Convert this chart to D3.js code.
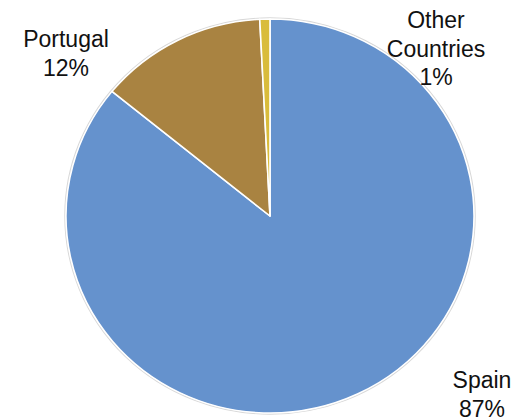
<!DOCTYPE html>
<html>
<head>
<meta charset="utf-8">
<script src="https://cdn.jsdelivr.net/npm/d3@7"></script>
<style>
  body { margin: 0; background: #fff; }
  svg { display: block; }
</style>
</head>
<body>
<div id="d3-container"></div>
<script>
/* CONSTANTS AND GLOBALS */
const width = 521,
  height = 420,
  cx = 270, cy = 216,
  rx = 204, ry = 197;

/* DATA */
const countries = ["Spain", "Portugal", "Other Countries"];
const shares = [85.9, 13.3, 0.8];
const shareLabels = ["87%", "12%", "1%"];
const colors = ["#6592cd", "#a98341", "#d9bc3b"];

// label anchor points (center x, first baseline y) and line breaks
const labelLines = [["Spain"], ["Portugal"], ["Other", "Countries"]];
const labelPos = [[482, 388], [66, 47], [436, 28]];

const data = countries.map((c, i) => ({ name: c, value: shares[i], label: shareLabels[i] }));

const svg = d3.select("#d3-container")
  .append("svg")
  .attr("width", width)
  .attr("height", height);

const pie = d3.pie().sort(null).value(d => d.value);
const arc = d3.arc().innerRadius(0).outerRadius(rx);

// pie is slightly squashed vertically, like the original
const g = svg.append("g")
  .attr("transform", `translate(${cx},${cy}) scale(1,${ry / rx})`);

// faint edge shadow
g.append("circle")
  .attr("r", rx + 1)
  .attr("fill", "none")
  .attr("stroke", "#d8d8d8")
  .attr("stroke-width", 1.5);

g.selectAll("path")
  .data(pie(data))
  .join("path")
  .attr("d", arc)
  .attr("fill", (d, i) => colors[i])
  .attr("stroke", "#fff")
  .attr("stroke-width", 1.6)
  .attr("stroke-linejoin", "round");

// labels
const lineH = 28.5;
data.forEach((d, i) => {
  const lines = labelLines[i].concat([d.label]);
  const t = svg.append("text")
    .attr("text-anchor", "middle")
    .attr("font-family", "'Liberation Sans', Arial, sans-serif")
    .attr("font-size", 23)
    .attr("fill", "#111");
  lines.forEach((s, k) => {
    t.append("tspan")
      .attr("x", labelPos[i][0])
      .attr("y", labelPos[i][1] + k * lineH)
      .text(s);
  });
});
</script>
</body>
</html>
